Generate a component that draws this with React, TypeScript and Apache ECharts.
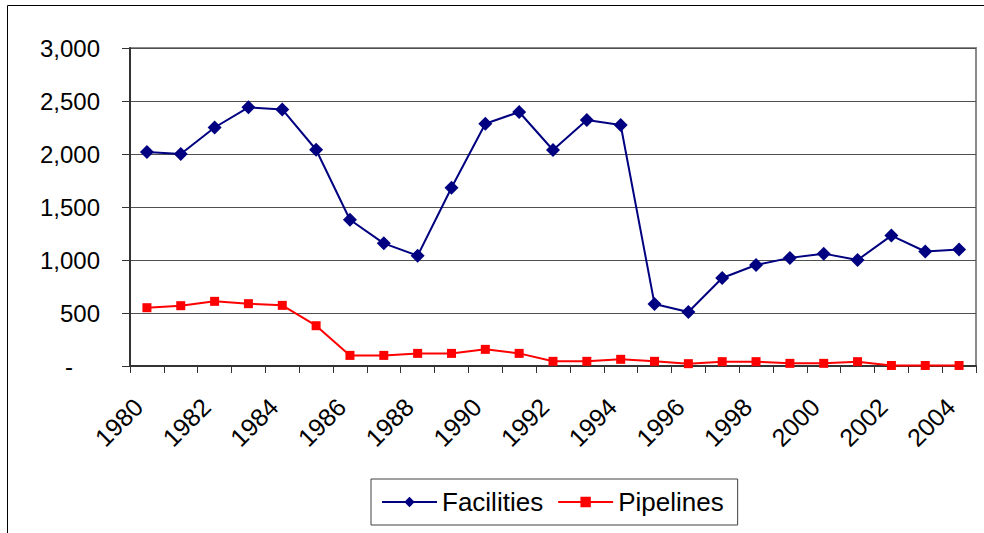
import React, { useEffect, useRef } from "react";
import * as echarts from "echarts";

const years = [
  "1980", "1981", "1982", "1983", "1984", "1985", "1986", "1987", "1988", "1989",
  "1990", "1991", "1992", "1993", "1994", "1995", "1996", "1997", "1998", "1999",
  "2000", "2001", "2002", "2003", "2004",
];
const facilities = [
  2020, 2000, 2250, 2440, 2420, 2040, 1380, 1157, 1041, 1682,
  2286, 2396, 2038, 2321, 2274, 585, 509, 830, 953, 1020,
  1060, 1000, 1230, 1080, 1100,
];
const pipelines = [
  550, 569, 610, 588, 572, 380, 100, 100, 119, 119,
  157, 119, 44, 44, 63, 44, 22, 41, 41, 25,
  25, 41, 5, 5, 5,
];
const yTicks = { min: 0, max: 3000, interval: 500 };

const FONT = "'Liberation Sans', Arial, sans-serif";

export default function App() {
  const ref = useRef<HTMLDivElement>(null);
  useEffect(() => {
    if (!ref.current) return;
    const chart = echarts.init(ref.current, null, { renderer: "svg" });
    chart.setOption({
      animation: false,
      backgroundColor: "#ffffff",
      textStyle: { fontFamily: FONT },
      graphic: [
        {
          type: "rect",
          shape: { x: 7.5, y: 5.5, width: 1100, height: 700 },
          style: { fill: "none", stroke: "#000", lineWidth: 1 },
          silent: true,
          z: -1,
        },
      ],
      grid: {
        left: 130,
        top: 48,
        right: 8,
        bottom: 167,
        show: true,
        borderColor: "#8a8a8a",
        borderWidth: 2,
      },
      legend: {
        left: 371,
        top: 479,
        padding: [10, 14, 10, 10],
        itemGap: 14,
        itemWidth: 55,
        itemHeight: 13,
        borderColor: "#404040",
        borderWidth: 1,
        textStyle: { fontSize: 26, color: "#000", fontFamily: FONT },
        data: ["Facilities", "Pipelines"],
      },
      xAxis: {
        type: "category",
        data: years,
        boundaryGap: true,
        axisLine: { lineStyle: { color: "#333", width: 2 } },
        axisTick: { show: true, interval: 0, length: 7, lineStyle: { color: "#333" } },
        axisLabel: {
          interval: 1,
          rotate: 45,
          margin: 28,
          padding: [0, 12, 0, 0],
          fontSize: 25,
          color: "#000",
          fontFamily: FONT,
        },
        splitLine: { show: false },
      },
      yAxis: {
        type: "value",
        min: yTicks.min,
        max: yTicks.max,
        interval: yTicks.interval,
        axisLine: { show: true, lineStyle: { color: "#333", width: 2 } },
        axisTick: { show: true, length: 8, lineStyle: { color: "#333" } },
        axisLabel: {
          margin: 30,
          fontSize: 24,
          color: "#000",
          fontFamily: FONT,
          formatter: (v: number) =>
            v === 0 ? "{z|-}" : v.toLocaleString("en-US"),
          rich: { z: { fontSize: 24, color: "#000", padding: [0, 27, 0, 0], fontFamily: FONT } },
        },
        splitLine: { show: true, lineStyle: { color: "#505050", width: 1 } },
      },
      series: [
        {
          name: "Facilities",
          type: "line",
          data: facilities,
          symbol: "diamond",
          symbolSize: 14,
          itemStyle: { color: "#000080" },
          lineStyle: { color: "#000080", width: 2 },
        },
        {
          name: "Pipelines",
          type: "line",
          data: pipelines,
          symbol: "rect",
          symbolSize: 9,
          itemStyle: { color: "#ff0000" },
          lineStyle: { color: "#ff0000", width: 2 },
        },
      ],
    });
    return () => chart.dispose();
  }, []);
  return (
    <div
      ref={ref}
      style={{ position: "absolute", left: 0, top: 0, width: 984, height: 533 }}
    />
  );
}
